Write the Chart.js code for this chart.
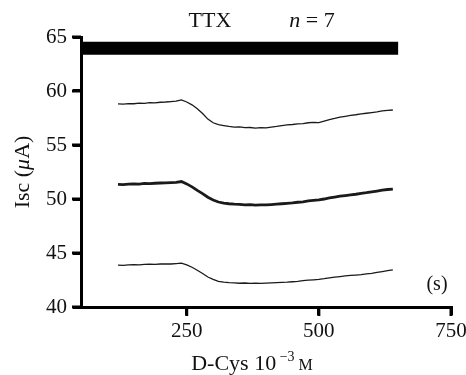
<!DOCTYPE html>
<html>
<head>
<meta charset="utf-8">
<script src="https://cdn.jsdelivr.net/npm/chart.js@4.4.1/dist/chart.umd.min.js"></script>
<style>
  html, body { margin: 0; padding: 0; background: #fff; }
  #wrap { width: 466px; height: 375px; position: relative; }
</style>
</head>
<body>
<div id="wrap"><canvas id="chart"></canvas></div>
<script>
// === data ===
const timeSec = [120,130,140,150,160,170,180,190,200,210,220,230,240,250,260,270,280,290,300,310,
  320,330,340,350,360,370,380,390,400,410,420,430,440,450,460,470,480,490,500,510,
  520,530,540,550,560,570,580,590,600,610,620,630,640];

const upperTrace = [58.80,58.78,58.84,58.82,58.88,58.86,58.92,58.90,58.96,58.98,59.02,59.06,59.18,58.98,58.72,58.35,57.92,57.40,57.06,56.88,
  56.80,56.72,56.66,56.68,56.60,56.62,56.57,56.60,56.58,56.66,56.72,56.80,56.86,56.90,56.96,56.98,57.06,57.10,57.08,57.22,
  57.36,57.46,57.58,57.66,57.74,57.80,57.88,57.94,58.00,58.06,58.16,58.20,58.24];

const meanTrace = [51.36,51.34,51.38,51.40,51.38,51.44,51.42,51.46,51.48,51.50,51.52,51.54,51.62,51.40,51.12,50.80,50.50,50.16,49.90,49.72,
  49.62,49.56,49.52,49.50,49.46,49.48,49.44,49.46,49.45,49.48,49.52,49.56,49.60,49.64,49.70,49.74,49.82,49.88,49.92,50.00,
  50.10,50.18,50.26,50.32,50.38,50.44,50.52,50.58,50.66,50.74,50.82,50.88,50.92];

const lowerTrace = [43.88,43.86,43.90,43.92,43.90,43.94,43.96,43.94,43.98,44.00,43.98,44.02,44.06,43.90,43.68,43.40,43.10,42.78,42.56,42.38,
  42.30,42.26,42.24,42.20,42.22,42.18,42.20,42.19,42.22,42.24,42.26,42.28,42.30,42.34,42.38,42.44,42.48,42.52,42.56,42.62,
  42.70,42.76,42.82,42.88,42.92,42.96,43.00,43.06,43.12,43.20,43.28,43.36,43.43];

// TTX application bar (start, end, level)
const ttxBarX = [50, 650];
const ttxBarY = 63.95;

const xTicks = [250, 500, 750];
const yTicks = [40, 45, 50, 55, 60, 65];

const SERIF = "'Liberation Serif', 'Times New Roman', serif";

function toPoints(ys) {
  return timeSec.map((t, i) => ({ x: t, y: ys[i] }));
}

// =========================
// extra text labels + tick marks
// =========================
function drawParts(ctx, parts, x, y, align) {
  // parts: [{text, font, dy}]
  let total = 0;
  parts.forEach((p) => { ctx.font = p.font; total += ctx.measureText(p.text).width; });
  let cx = align === "center" ? x - total / 2 : x;
  parts.forEach((p) => {
    ctx.font = p.font;
    ctx.fillText(p.text, cx, y + (p.dy || 0));
    cx += ctx.measureText(p.text).width;
  });
}

const labelsPlugin = {
  id: "labels",
  afterDraw(chart) {
    const ctx = chart.ctx;
    const xs = chart.scales.x;
    const ys = chart.scales.y;
    const area = chart.chartArea;
    ctx.save();

    // tick marks
    ctx.fillStyle = "#000";
    xTicks.forEach((v) => {
      const px = xs.getPixelForValue(v);
      ctx.fillRect(px - 1.5, area.bottom, 3, 9);
    });
    yTicks.forEach((v) => {
      const py = ys.getPixelForValue(v);
      ctx.fillRect(area.left - 9, py - 1.5, 9, 3);
    });

    ctx.fillStyle = "#111";
    ctx.textBaseline = "alphabetic";
    ctx.textAlign = "left";

    // header
    drawParts(ctx, [{ text: "TTX", font: `22px ${SERIF}` }], 210, 27, "center");
    drawParts(ctx, [
      { text: "n", font: `italic 22px ${SERIF}` },
      { text: " = 7", font: `22px ${SERIF}` }
    ], 312, 27, "center");

    // (s)
    drawParts(ctx, [{ text: "(s)", font: `20px ${SERIF}` }], 437, 290, "center");

    // x title
    drawParts(ctx, [
      { text: "D-Cys 10", font: `22px ${SERIF}` },
      { text: " \u22123", font: `14px ${SERIF}`, dy: -9 },
      { text: " M", font: `16px ${SERIF}` }
    ], 252, 370, "center");

    // y title (rotated)
    ctx.translate(29, 172);
    ctx.rotate(-Math.PI / 2);
    drawParts(ctx, [
      { text: "Isc (", font: `22px ${SERIF}` },
      { text: "\u03bc", font: `italic 22px ${SERIF}` },
      { text: "A)", font: `22px ${SERIF}` }
    ], 0, 0, "center");
    ctx.restore();
  }
};

const traceStyle = (w) => ({
  borderColor: "#1a1a1a",
  borderWidth: w,
  pointRadius: 0,
  tension: 0,
  fill: false
});

new Chart(document.getElementById("chart"), {
  type: "line",
  data: {
    datasets: [
      {
        label: "TTX",
        data: ttxBarX.map((x) => ({ x, y: ttxBarY })),
        borderColor: "#000",
        borderWidth: 13,
        borderCapStyle: "butt",
        pointRadius: 0
      },
      { label: "upper", data: toPoints(upperTrace), ...traceStyle(1.3) },
      { label: "mean", data: toPoints(meanTrace), ...traceStyle(2.8) },
      { label: "lower", data: toPoints(lowerTrace), ...traceStyle(1.3) }
    ]
  },
  options: {
    responsive: true,
    maintainAspectRatio: false,
    animation: false,
    layout: { padding: { top: 37, right: 15, left: 0, bottom: 0 } },
    plugins: { legend: { display: false }, tooltip: { enabled: false } },
    scales: {
      x: {
        type: "linear",
        min: 50,
        max: 750,
        afterBuildTicks: (s) => { s.ticks = xTicks.map((v) => ({ value: v })); },
        afterFit: (s) => { s.height = 68; s.paddingLeft = 0; s.paddingRight = 0; },
        border: { color: "#000", width: 3 },
        grid: { drawOnChartArea: false, drawTicks: true, tickLength: 8, color: "#000", lineWidth: 3 },
        ticks: { color: "#111", padding: 4, maxRotation: 0, font: { family: SERIF, size: 21 } }
      },
      y: {
        min: 40,
        max: 65,
        afterBuildTicks: (s) => { s.ticks = yTicks.map((v) => ({ value: v })); },
        afterFit: (s) => { s.width = 81; s.paddingTop = 0; s.paddingBottom = 0; },
        border: { color: "#000", width: 3 },
        grid: { drawOnChartArea: false, drawTicks: true, tickLength: 8, color: "#000", lineWidth: 3 },
        ticks: { color: "#111", padding: 6, font: { family: SERIF, size: 21 } }
      }
    }
  },
  plugins: [labelsPlugin]
});
</script>
</body>
</html>
